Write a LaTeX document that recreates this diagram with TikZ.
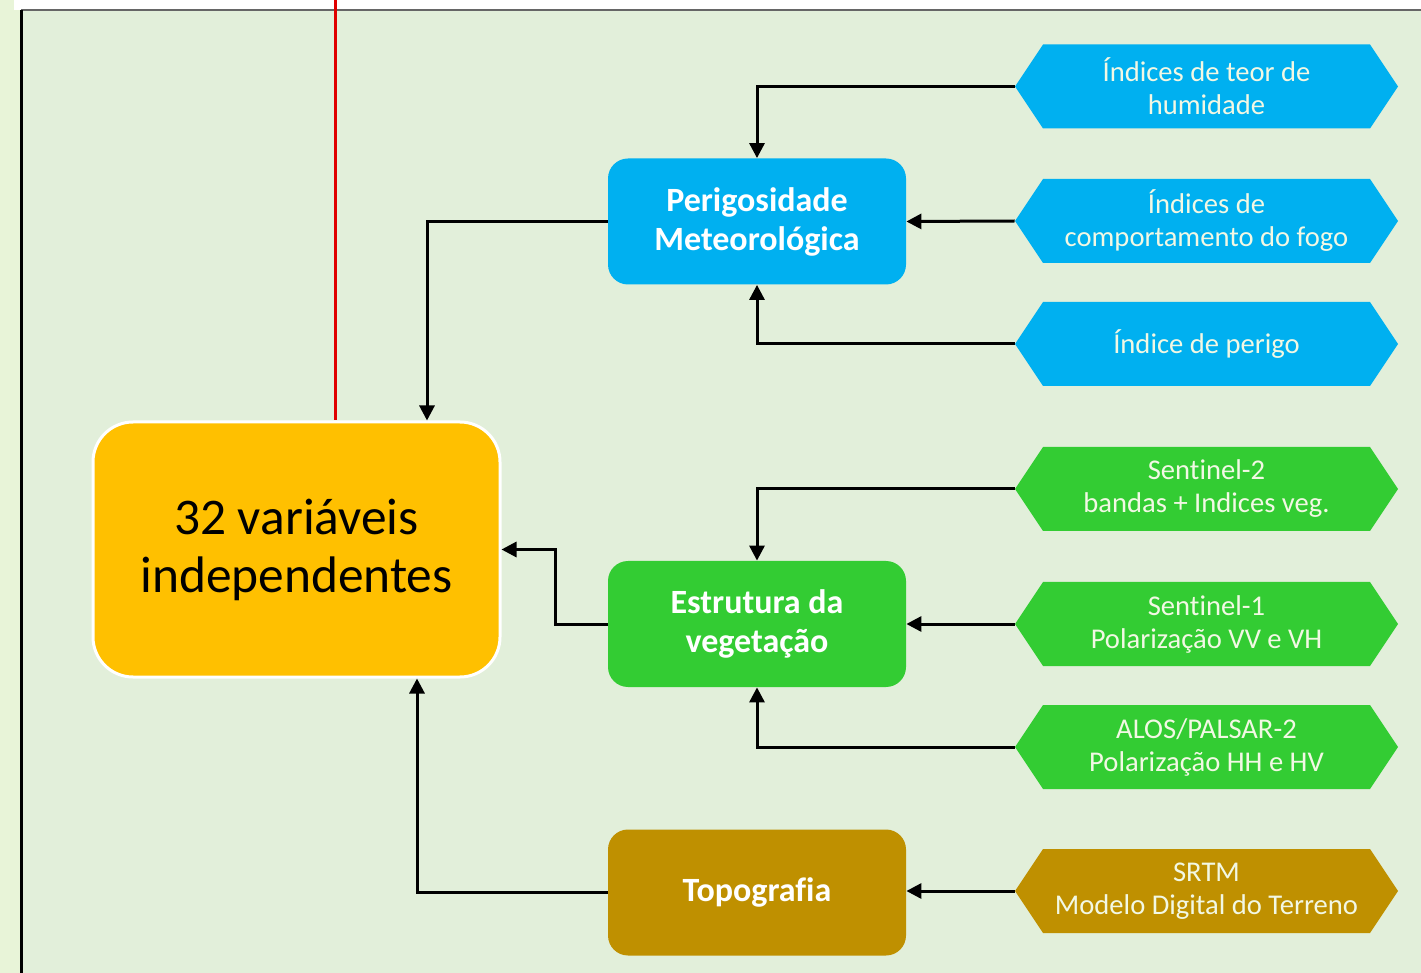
\documentclass[tikz,border=0pt]{standalone}
\usepackage{fontspec}
\setmainfont{Carlito}[Ligatures=NoCommon]
\usetikzlibrary{arrows.meta}
\definecolor{panel}{HTML}{E2EFDA}
\definecolor{strip}{HTML}{E8F4D8}
\definecolor{cblue}{HTML}{00B0F0}
\definecolor{cgreen}{HTML}{33CC33}
\definecolor{corange}{HTML}{FFC000}
\definecolor{cgold}{HTML}{BF9000}
\definecolor{htxt}{HTML}{F2F8E4}
\definecolor{cred}{HTML}{E00000}
\tikzset{
  hextext/.style={minimum width=191.5pt, minimum height=42pt, inner sep=0pt,
    text=htxt, align=center, font=\fontsize{14.3pt}{16.5pt}\selectfont},
  mainbox/.style={rounded corners=10pt, minimum width=149pt, minimum height=63pt,
    inner sep=0pt, text=white, align=center, font=\bfseries\fontsize{17pt}{19.5pt}\selectfont},
  arr/.style={line width=1.5pt, -{Triangle[length=7.5pt,width=7.5pt]}},
}
\newcommand\hexbox[4]{%
  \fill[#2] (1015,#3) -- (1043,#3-42) -- (1370,#3-42) -- (1398,#3) -- (1370,#3+42) -- (1043,#3+42) -- cycle;
  \node[hextext] (#1) at (1206.5,#3) {#4};
}
\begin{document}
\begin{tikzpicture}[x=0.5pt,y=-0.5pt]
\useasboundingbox (0,0) rectangle (1421,973);
% background
\fill[strip] (0,0) rectangle (1421,973);
\fill[white] (14,0) rectangle (1421,10);
\fill[panel] (21,10) rectangle (1421,973);
\draw[line width=0.8pt, black!60] (21,10) -- (1421,10);
\draw[line width=1.5pt, black] (21.5,10) -- (21.5,973);
% hexagons
\hexbox{hum}{cblue}{86.5}{Índices de teor de\\humidade}
\hexbox{comp}{cblue}{221}{Índices de\\comportamento do fogo}
\hexbox{per}{cblue}{344}{Índice de perigo}
\hexbox{stwo}{cgreen}{489}{Sent\kern0pt inel-2\\bandas + Indices veg.}
\hexbox{sone}{cgreen}{624}{Sent\kern0pt inel-1\\Polarização VV e VH}
\hexbox{alos}{cgreen}{747}{ALOS/PALSAR-2\\Polarização HH e HV}
\hexbox{srtm}{cgold}{891}{SRTM\\Modelo Digital do Terreno}
% main boxes
\node[mainbox, fill=cblue] (peri) at (757,221.5) {Perigosidade\\Meteorológica};
\node[mainbox, fill=cgreen] (estr) at (757,624) {Estrutura da\\vegetação};
\node[mainbox, fill=cgold] (topo) at (757,892.5) {Topograf\kern0pt ia};
\node[rounded corners=20pt, fill=corange, draw=white, line width=1.5pt,
  minimum width=203.5pt, minimum height=127.5pt, inner sep=0pt, align=center,
  font=\fontsize{25.7pt}{29pt}\selectfont] (vars) at (296.5,549.5) {32 variáveis\\independentes};
% red line
\coordinate (redtop) at (335,0);
\draw[cred, line width=1.5pt] (redtop) -- (redtop |- vars.north);
% connectors
\draw[arr] (hum.west) -| (peri.north);
\draw[arr] (comp.west) -- (peri.east);
\draw[arr] (per.west) -| (peri.south);
\draw[arr] (peri.west) -| ([xshift=65.25pt]vars.north);
\draw[arr] (stwo.west) -| (estr.north);
\draw[arr] (sone.west) -- (estr.east);
\draw[arr] (alos.west) -| (estr.south);
\draw[arr] (estr.west) -- ++(-52,0) |- (vars.east);
\draw[arr] (srtm.west) -- (topo.east |- srtm.west);
\draw[arr] (topo.west) -| ([xshift=60.25pt]vars.south);
\end{tikzpicture}
\end{document}
